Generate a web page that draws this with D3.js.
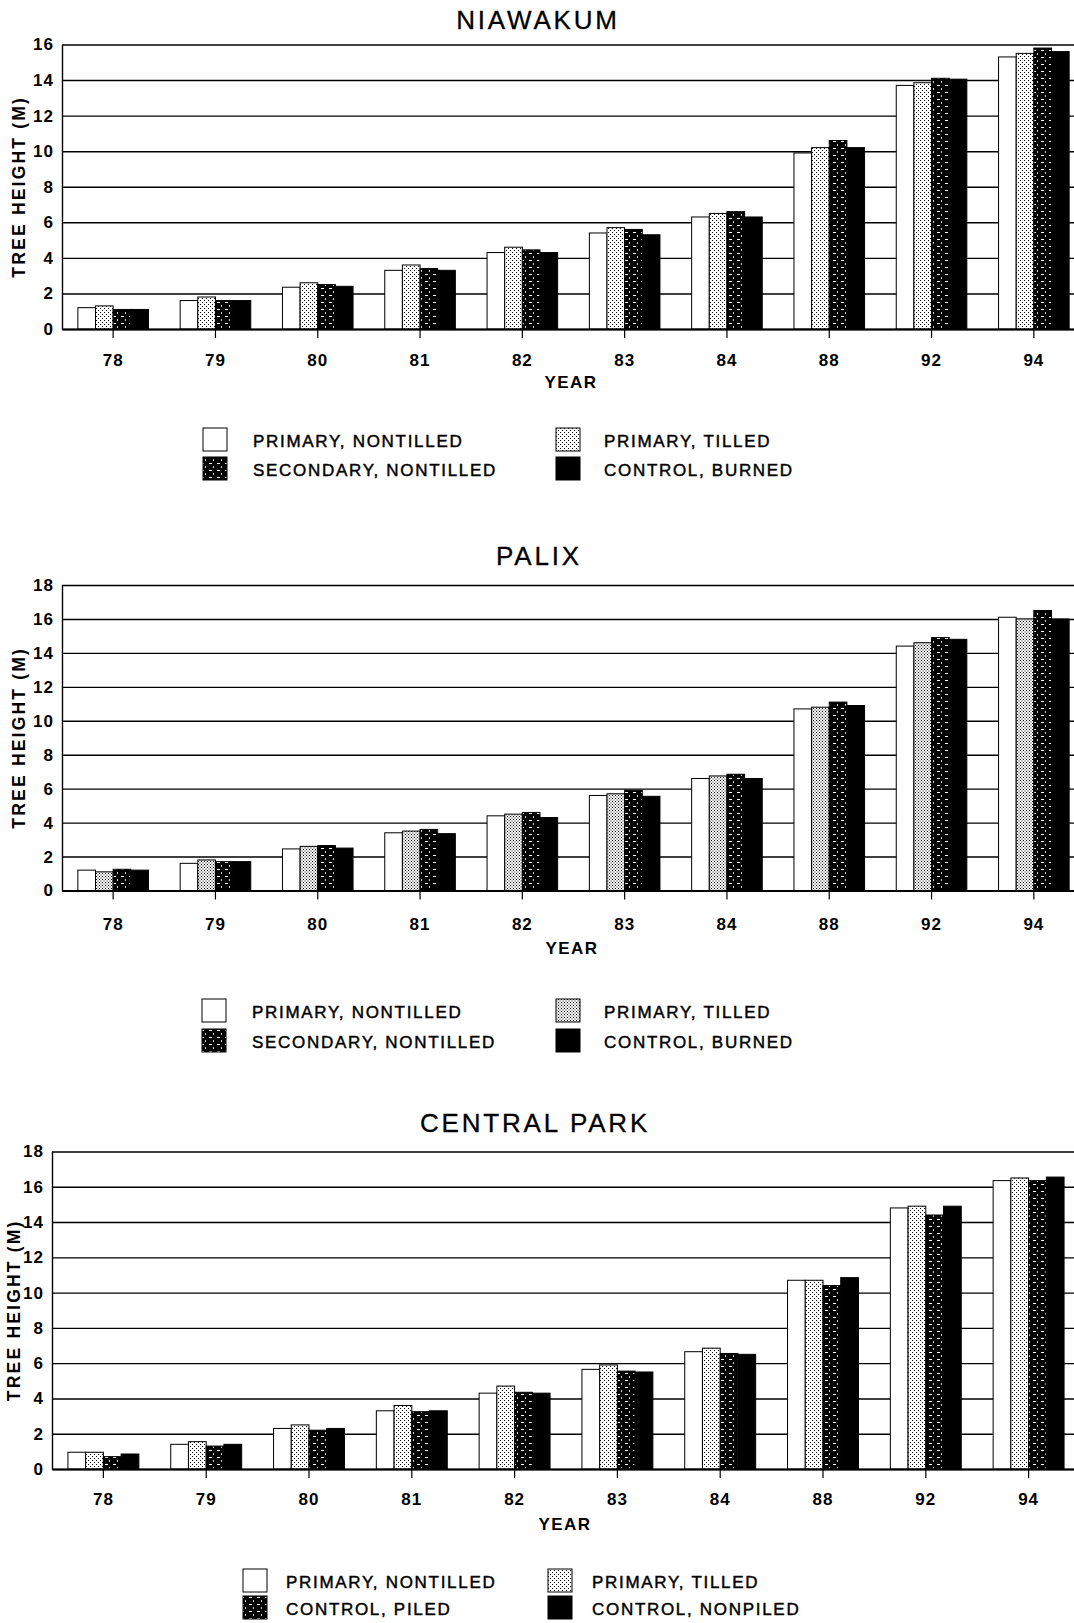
<!DOCTYPE html>
<html>
<head>
<meta charset="utf-8">
<script src="https://cdn.jsdelivr.net/npm/d3@7"></script>
<style>
  body { margin: 0; background: #fff; }
  svg { display: block; font-family: "Liberation Sans", Arial, sans-serif; }
</style>
</head>
<body>
<svg id="chart" width="1074" height="1623"></svg>
<script>
// Tree heights (m)
const years = ["78", "79", "80", "81", "82", "83", "84", "88", "92", "94"];

const niawakumPrimaryNontilled = [1.2, 1.6, 2.35, 3.3, 4.3, 5.4, 6.3, 9.9, 13.7, 15.3];
const niawakumPrimaryTilled = [1.3, 1.8, 2.6, 3.6, 4.6, 5.7, 6.5, 10.2, 13.85, 15.5];
const niawakumSecondaryNontilled = [1.1, 1.6, 2.5, 3.4, 4.45, 5.6, 6.6, 10.6, 14.1, 15.8];
const niawakumControlBurned = [1.1, 1.6, 2.4, 3.3, 4.3, 5.3, 6.3, 10.2, 14.05, 15.6];

const palixPrimaryNontilled = [1.2, 1.6, 2.45, 3.4, 4.4, 5.6, 6.6, 10.7, 14.4, 16.1];
const palixPrimaryTilled = [1.1, 1.8, 2.6, 3.5, 4.5, 5.7, 6.75, 10.8, 14.6, 16.0];
const palixSecondaryNontilled = [1.25, 1.7, 2.65, 3.6, 4.6, 5.9, 6.85, 11.1, 14.9, 16.5];
const palixControlBurned = [1.2, 1.7, 2.5, 3.35, 4.3, 5.55, 6.6, 10.9, 14.8, 16.0];

const centralPrimaryNontilled = [0.95, 1.4, 2.3, 3.3, 4.3, 5.65, 6.65, 10.7, 14.8, 16.35];
const centralPrimaryTilled = [0.95, 1.55, 2.5, 3.6, 4.7, 5.9, 6.85, 10.7, 14.9, 16.5];
const centralControlPiled = [0.7, 1.3, 2.2, 3.25, 4.35, 5.55, 6.55, 10.4, 14.4, 16.35];
const centralControlNonpiled = [0.85, 1.4, 2.3, 3.3, 4.3, 5.5, 6.5, 10.85, 14.9, 16.55];

const legendBurned = ["PRIMARY, NONTILLED", "PRIMARY, TILLED", "SECONDARY, NONTILLED", "CONTROL, BURNED"];
const legendPiled = ["PRIMARY, NONTILLED", "PRIMARY, TILLED", "CONTROL, PILED", "CONTROL, NONPILED"];

const ticks16 = [0, 2, 4, 6, 8, 10, 12, 14, 16];
const ticks18 = [0, 2, 4, 6, 8, 10, 12, 14, 16, 18];

const svg = d3.select("#chart");
svg.append("rect").attr("width", 1074).attr("height", 1623).attr("fill", "#fff");

// fill patterns, roughly like the printed screens
const defs = svg.append("defs");

function dotPattern(id, size) {
  const p = defs.append("pattern").attr("id", id)
    .attr("width", size).attr("height", size)
    .attr("patternUnits", "userSpaceOnUse");
  p.append("rect").attr("width", size).attr("height", size).attr("fill", "#fff");
  p.append("rect").attr("x", 0).attr("y", 0).attr("width", 1).attr("height", 1).attr("fill", "#000");
  p.append("rect").attr("x", size / 2).attr("y", size / 2).attr("width", 1).attr("height", 1).attr("fill", "#000");
}
dotPattern("dots", 4);
dotPattern("dotsDense", 3);

// dark screen with short white dashes
const brick = defs.append("pattern").attr("id", "brick")
  .attr("width", 8).attr("height", 7)
  .attr("patternUnits", "userSpaceOnUse");
brick.append("rect").attr("width", 8).attr("height", 7).attr("fill", "#000");
brick.append("rect").attr("x", 1).attr("y", 1).attr("width", 3).attr("height", 1).attr("fill", "#fff");
brick.append("rect").attr("x", 5).attr("y", 4).attr("width", 1).attr("height", 2).attr("fill", "#ccc");

function drawChart(c) {
  const g = svg.append("g");
  const fills = ["#fff", `url(#${c.dots})`, "url(#brick)", "#000"];

  const x = d3.scaleBand().domain(years)
    .range([c.left, c.left + c.width])
    .paddingInner(0.31).paddingOuter(0.155);
  const xs = d3.scaleBand().domain(d3.range(c.series.length)).range([0, x.bandwidth()]);
  const y = d3.scaleLinear().domain([0, c.yMax]).range([c.bottom, c.top]);

  // horizontal grid
  g.append("g")
    .attr("transform", `translate(${c.left},0)`)
    .call(d3.axisLeft(y).tickValues(c.ticks).tickSize(-c.width).tickFormat(""))
    .call(s => s.select(".domain").remove())
    .selectAll("line")
    .attr("stroke", "#000")
    .attr("stroke-width", 1.4);

  // y axis line and labels
  g.append("g")
    .attr("transform", `translate(${c.left},0)`)
    .call(d3.axisLeft(y).tickValues(c.ticks).tickSize(0).tickSizeOuter(0).tickPadding(8))
    .call(s => s.select(".domain").attr("stroke-width", 1.4))
    .selectAll("text")
    .attr("fill", "#000")
    .style("font-size", "17px")
    .style("font-weight", "bold")
    .style("letter-spacing", "1px");

  // bars
  c.series.forEach((vals, si) => {
    g.append("g").selectAll("rect")
      .data(vals)
      .join("rect")
      .attr("x", (d, i) => x(years[i]) + xs(si))
      .attr("y", d => y(d))
      .attr("width", xs.bandwidth())
      .attr("height", d => y(0) - y(d))
      .attr("fill", fills[si])
      .attr("stroke", "#000")
      .attr("stroke-width", 1);
  });

  // x axis
  g.append("g")
    .attr("transform", `translate(0,${c.bottom})`)
    .call(d3.axisBottom(x).tickSize(9).tickSizeOuter(0).tickPadding(c.labelPad))
    .call(s => s.select(".domain").attr("stroke-width", 2))
    .call(s => s.selectAll("line").attr("stroke-width", 1.2))
    .selectAll("text")
    .attr("fill", "#000")
    .style("font-size", "17px")
    .style("font-weight", "bold")
    .style("letter-spacing", "1px");

  g.append("text")
    .attr("x", c.yearX).attr("y", c.yearY)
    .attr("text-anchor", "middle")
    .attr("dominant-baseline", "central")
    .style("font-size", "17px").style("font-weight", "bold").style("letter-spacing", "1.5px")
    .text("YEAR");

  g.append("text")
    .attr("transform", `translate(${c.axisTitleX},${(c.top + c.bottom) / 2}) rotate(-90)`)
    .attr("text-anchor", "middle")
    .attr("dominant-baseline", "central")
    .style("font-size", "17.5px").style("font-weight", "bold").style("letter-spacing", "2.2px")
    .text("TREE HEIGHT (M)");

  g.append("text")
    .attr("x", c.titleX).attr("y", c.titleY)
    .attr("text-anchor", "middle")
    .attr("dominant-baseline", "central")
    .attr("stroke", "#000").attr("stroke-width", 0.3)
    .style("font-size", "26px").style("letter-spacing", "2.8px")
    .text(c.title);

  // legend: two columns, two rows
  const lg = c.legend;
  c.labels.forEach((label, i) => {
    const col = i % 2, row = Math.floor(i / 2);
    const bx = lg.boxX[col], ty = lg.rowY[row];
    g.append("rect")
      .attr("x", bx).attr("y", ty - 13)
      .attr("width", 24).attr("height", 23)
      .attr("fill", fills[i])
      .attr("stroke", "#000").attr("stroke-width", 1);
    g.append("text")
      .attr("x", lg.textX[col]).attr("y", ty)
      .attr("dominant-baseline", "central")
      .attr("stroke", "#000").attr("stroke-width", 0.45)
      .style("font-size", "17px").style("letter-spacing", "1.7px")
      .text(label);
  });
}

drawChart({
  title: "NIAWAKUM", titleX: 538, titleY: 20,
  left: 62, width: 1023, top: 44.5, bottom: 329, yMax: 16, ticks: ticks16,
  labelPad: 16, yearX: 571, yearY: 382, axisTitleX: 19, dots: "dots",
  series: [niawakumPrimaryNontilled, niawakumPrimaryTilled, niawakumSecondaryNontilled, niawakumControlBurned],
  labels: legendBurned,
  legend: { boxX: [203, 556], textX: [253, 604], rowY: [441, 470] }
});

drawChart({
  title: "PALIX", titleX: 539, titleY: 556,
  left: 62, width: 1023, top: 585, bottom: 890.5, yMax: 18, ticks: ticks18,
  labelPad: 18, yearX: 572, yearY: 948, axisTitleX: 19, dots: "dotsDense",
  series: [palixPrimaryNontilled, palixPrimaryTilled, palixSecondaryNontilled, palixControlBurned],
  labels: legendBurned,
  legend: { boxX: [202, 556], textX: [252, 604], rowY: [1012, 1042] }
});

drawChart({
  title: "CENTRAL PARK", titleX: 535, titleY: 1123,
  left: 52, width: 1028, top: 1151.5, bottom: 1469, yMax: 18, ticks: ticks18,
  labelPad: 15, yearX: 565, yearY: 1524, axisTitleX: 14, dots: "dots",
  series: [centralPrimaryNontilled, centralPrimaryTilled, centralControlPiled, centralControlNonpiled],
  labels: legendPiled,
  legend: { boxX: [243, 548], textX: [286, 592], rowY: [1582, 1609] }
});
</script>
</body>
</html>
